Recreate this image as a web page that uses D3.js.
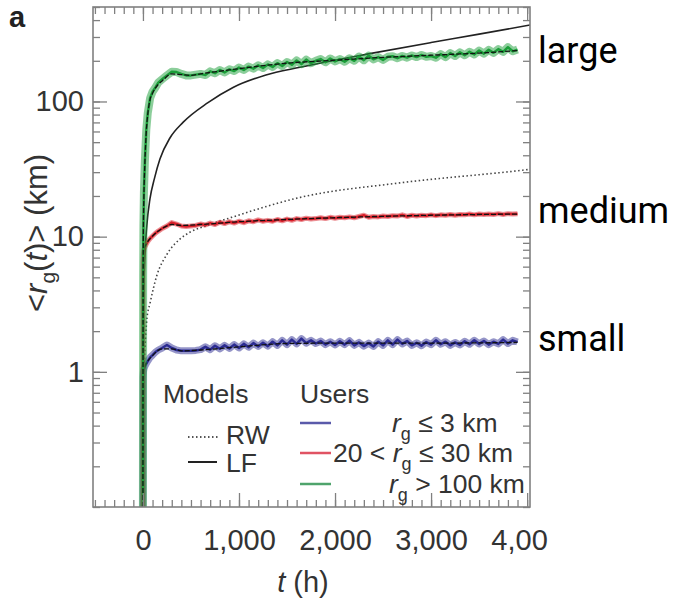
<!doctype html>
<html lang="en">
<head>
<meta charset="utf-8">
<script src="https://d3js.org/d3.v7.min.js"></script>
<style>
    html, body { margin: 0; padding: 0; background: #fff; }
    svg { display: block; }
</style>
</head>
<body>
<svg id="svg" width="675" height="601"></svg>
<script>
    // t (h) vs <r_g(t)> (km)
    var smallUsers = [[0,0.1],[2,0.9],[5,1.0],[10,1.05],[20,1.1],[35,1.15],[50,1.2],[75,1.28],[100,1.33],[130,1.4],
        [160,1.45],[200,1.5],[250,1.58],[300,1.5],[350,1.45],[400,1.43],[450,1.43],[500,1.43],[550,1.44],[600,1.46],
        [650,1.53],[700,1.46],[750,1.56],[800,1.48],[850,1.57],[900,1.49],[950,1.59],[1000,1.5],[1050,1.61],[1100,1.52],
        [1150,1.63],[1200,1.54],[1250,1.64],[1300,1.55],[1350,1.67],[1400,1.57],[1450,1.71],[1500,1.59],[1550,1.73],[1600,1.61],
        [1650,1.76],[1700,1.63],[1750,1.71],[1800,1.62],[1850,1.69],[1900,1.59],[1950,1.67],[2000,1.58],[2050,1.68],[2100,1.59],
        [2150,1.7],[2200,1.57],[2250,1.65],[2300,1.55],[2350,1.63],[2400,1.54],[2450,1.67],[2500,1.57],[2550,1.71],[2600,1.59],
        [2650,1.73],[2700,1.61],[2750,1.69],[2800,1.57],[2850,1.64],[2900,1.56],[2950,1.66],[3000,1.59],[3050,1.71],[3100,1.6],
        [3150,1.67],[3200,1.57],[3250,1.65],[3300,1.58],[3350,1.68],[3400,1.6],[3450,1.71],[3500,1.61],[3550,1.69],[3600,1.59],
        [3650,1.67],[3700,1.61],[3750,1.73],[3800,1.62],[3850,1.71],[3900,1.66]];

    var mediumUsers = [[0,0.1],[2,6.5],[5,7.5],[10,8.0],[20,8.4],[35,8.8],[50,9.2],[75,9.7],[100,10.1],[130,10.6],
        [160,11.0],[200,11.5],[250,12.0],[300,12.7],[350,12.4],[400,12.0],[450,11.9],[500,12.0],[550,12.1],[600,12.4],
        [650,12.2],[700,12.6],[750,12.3],[800,12.8],[850,12.5],[900,12.9],[950,12.6],[1000,13.0],[1050,12.7],[1100,13.1],
        [1150,12.9],[1200,13.3],[1250,13.0],[1300,13.2],[1350,13.0],[1400,13.4],[1450,13.1],[1500,13.5],[1550,13.2],[1600,13.6],
        [1650,13.4],[1700,13.7],[1750,13.5],[1800,13.6],[1850,13.8],[1900,13.6],[1950,13.9],[2000,13.7],[2050,13.9],[2100,13.8],
        [2150,14.0],[2200,13.8],[2250,14.1],[2300,14.4],[2350,13.9],[2400,14.1],[2450,14.0],[2500,14.2],[2550,14.1],[2600,14.3],
        [2650,14.2],[2700,14.5],[2750,14.1],[2800,14.4],[2850,14.2],[2900,14.4],[2950,14.3],[3000,14.5],[3050,14.3],[3100,14.5],
        [3150,14.4],[3200,14.6],[3250,14.4],[3300,14.6],[3350,14.5],[3400,14.7],[3450,14.5],[3500,14.7],[3550,14.6],[3600,14.7],
        [3650,14.6],[3700,14.8],[3750,14.6],[3800,14.8],[3850,14.7],[3900,14.8]];

    var largeUsers = [[0,0.1],[2,5],[5,12],[10,21],[20,36],[35,62],[50,82],[75,106],[100,118],[130,127],
        [160,138],[200,146],[250,156],[300,166],[350,165],[400,160],[450,156],[500,156],[550,158],[600,160],
        [650,157],[700,167],[750,162],[800,171],[850,164],[900,173],[950,168],[1000,178],[1050,171],[1100,181],
        [1150,175],[1200,185],[1250,177],[1300,188],[1350,180],[1400,192],[1450,183],[1500,196],[1550,187],[1600,201],
        [1650,189],[1700,204],[1750,192],[1800,200],[1850,206],[1900,195],[1950,208],[2000,198],[2050,206],[2100,197],
        [2150,209],[2200,200],[2250,215],[2300,202],[2350,218],[2400,205],[2450,213],[2500,203],[2550,214],[2600,216],
        [2650,209],[2700,217],[2750,211],[2800,219],[2850,213],[2900,221],[2950,214],[3000,217],[3050,211],[3100,224],
        [3150,213],[3200,228],[3250,217],[3300,231],[3350,220],[3400,233],[3450,223],[3500,238],[3550,226],[3600,241],
        [3650,229],[3700,244],[3750,233],[3800,252],[3850,235],[3900,242]];

    // LF fits drawn on top of each user group
    var smallFit = [[0,0.1],[2,0.9],[5,1.0],[10,1.05],[20,1.1],[50,1.2],[100,1.32],[200,1.48],[300,1.48],[400,1.43],
        [600,1.45],[1000,1.53],[1500,1.62],[2000,1.63],[3000,1.63],[3900,1.65]];
    var mediumFit = [[0,0.1],[2,6.5],[5,7.5],[10,8],[20,8.4],[50,9.2],[100,10.1],[200,11.5],[300,12.3],[400,12.1],
        [600,12.3],[1000,12.9],[1500,13.4],[2000,13.8],[3000,14.4],[3900,14.7]];
    var largeFit = [[0,0.1],[2,5],[5,12],[10,20],[20,35],[35,60],[50,80],[75,104],[100,115],[160,134],[200,142],
        [300,160],[400,158],[500,156],[600,160],[1000,175],[1500,192],[2000,202],[2500,212],[3000,220],[3500,228],[3900,238]];

    // models
    var modelLF = [[0,0.1],[1,0.9],[5,2.6],[10,4.3],[20,7.2],[40,12],[73,19],[120,27],[177,37.5],[281,53.7],[417,70],
        [677,98],[938,127],[1281,157],[1635,179],[2333,224],[3000,273],[3500,315],[4030,368]];
    var modelRW = [[0,0.1],[3,0.6],[10,1.0],[21,1.5],[42,2.5],[73,3.2],[146,5.2],[250,7.4],[385,9.6],[490,10.8],
        [700,12.3],[938,14],[1635,19.5],[2677,25],[3948,31],[4030,31.5]];

    var xTickValues = [0, 1000, 2000, 3000, 4000];
    var yTickValues = [1, 10, 100];
    var groupNames = ["large", "medium", "small"];

    var svg = d3.select("#svg");
    var font = "'Liberation Sans', Arial, Helvetica, sans-serif";

    var pLeft = 93, pRight = 530, pTop = 7, pBottom = 507;
    var x = d3.scaleLinear().domain([-520, 4030]).range([pLeft, pRight]);
    var y = d3.scaleLog().domain([0.1, 500]).range([pBottom, pTop]);

    // the source panel is cropped on the right, through the last tick label
    svg.append("clipPath").attr("id", "cut")
        .append("rect").attr("x", 0).attr("y", 0).attr("width", 548).attr("height", 601);
    svg.append("clipPath").attr("id", "plot")
        .append("rect").attr("x", pLeft).attr("y", pTop).attr("width", pRight - pLeft).attr("height", pBottom - pTop);

    var chart = svg.append("g").attr("clip-path", "url(#cut)");

    var line = d3.line()
        .x(function (d) { return x(d[0]); })
        .y(function (d) { return y(d[1]); });
    var smooth = d3.line()
        .curve(d3.curveMonotoneX)
        .x(function (d) { return x(d[0]); })
        .y(function (d) { return y(d[1]); });

    var plot = chart.append("g").attr("clip-path", "url(#plot)");

    plot.append("path").attr("d", smooth(modelRW))
        .attr("fill", "none").attr("stroke", "#444").attr("stroke-width", 1.6)
        .attr("stroke-dasharray", "1.5,2.5");
    plot.append("path").attr("d", smooth(modelLF))
        .attr("fill", "none").attr("stroke", "#222").attr("stroke-width", 1.6);

    var users = [
        {data: smallUsers, fit: smallFit, color: "#2b2b92", band: 7},
        {data: mediumUsers, fit: mediumFit, color: "#d8202a", band: 5},
        {data: largeUsers, fit: largeFit, color: "#1a9e38", band: 8}
    ];
    users.forEach(function (u) {
        plot.append("path").attr("d", line(u.data))
            .attr("fill", "none").attr("stroke", u.color).attr("stroke-width", u.band)
            .attr("stroke-opacity", 0.5).attr("stroke-linejoin", "round");
        plot.append("path").attr("d", line(u.data))
            .attr("fill", "none").attr("stroke", u.color).attr("stroke-width", 2.5)
            .attr("stroke-linejoin", "round");
        plot.append("path").attr("d", smooth(u.fit))
            .attr("fill", "none").attr("stroke", "#111").attr("stroke-width", 1.3)
            .attr("stroke-dasharray", "5,2");
    });

    // frame and ticks
    var axisColor = "#808080";
    chart.append("rect").attr("x", pLeft).attr("y", pTop)
        .attr("width", pRight - pLeft).attr("height", pBottom - pTop)
        .attr("fill", "none").attr("stroke", axisColor).attr("stroke-width", 1.6);

    var xMinor = d3.range(-500, 4001, 100);
    var yMinor = y.ticks();

    function tickStyle(g) {
        g.select(".domain").remove();
        g.selectAll(".tick line").attr("stroke", axisColor).attr("stroke-width", 1.3);
    }

    chart.append("g").attr("transform", "translate(0," + pBottom + ")")
        .call(d3.axisTop(x).tickValues(xMinor).tickSize(7).tickFormat("")).call(tickStyle);
    chart.append("g").attr("transform", "translate(0," + pBottom + ")")
        .call(d3.axisTop(x).tickValues(xTickValues).tickSize(14).tickFormat("")).call(tickStyle);
    chart.append("g").attr("transform", "translate(0," + pTop + ")")
        .call(d3.axisBottom(x).tickValues(xMinor).tickSize(7).tickFormat("")).call(tickStyle);
    chart.append("g").attr("transform", "translate(0," + pTop + ")")
        .call(d3.axisBottom(x).tickValues(xTickValues).tickSize(14).tickFormat("")).call(tickStyle);

    chart.append("g").attr("transform", "translate(" + pLeft + ",0)")
        .call(d3.axisRight(y).tickValues(yMinor).tickSize(7).tickFormat("")).call(tickStyle);
    chart.append("g").attr("transform", "translate(" + pLeft + ",0)")
        .call(d3.axisRight(y).tickValues(yTickValues).tickSize(14).tickFormat("")).call(tickStyle);
    chart.append("g").attr("transform", "translate(" + pRight + ",0)")
        .call(d3.axisLeft(y).tickValues(yMinor).tickSize(7).tickFormat("")).call(tickStyle);
    chart.append("g").attr("transform", "translate(" + pRight + ",0)")
        .call(d3.axisLeft(y).tickValues(yTickValues).tickSize(14).tickFormat("")).call(tickStyle);

    // tick labels
    var tickSize = 29;
    var xLab = chart.append("g").attr("transform", "translate(0," + pBottom + ")")
        .call(d3.axisBottom(x).tickValues(xTickValues).tickSize(0).tickPadding(22).tickFormat(d3.format(",")));
    xLab.select(".domain").remove();
    xLab.selectAll("text").attr("font-family", font).attr("font-size", tickSize).attr("fill", "#333");

    var yLab = chart.append("g").attr("transform", "translate(" + pLeft + ",0)")
        .call(d3.axisLeft(y).tickValues(yTickValues).tickSize(0).tickPadding(9).tickFormat(d3.format("d")));
    yLab.select(".domain").remove();
    yLab.selectAll("text").attr("font-family", font).attr("font-size", tickSize).attr("fill", "#333");

    // axis titles
    var xt = chart.append("text").attr("x", 303).attr("y", 592)
        .attr("text-anchor", "middle").attr("font-family", font).attr("font-size", tickSize).attr("fill", "#333");
    xt.append("tspan").attr("font-style", "italic").text("t");
    xt.append("tspan").text(" (h)");

    var yt = chart.append("text").attr("transform", "translate(47,233) rotate(-90)")
        .attr("text-anchor", "middle").attr("font-family", font).attr("font-size", 31).attr("fill", "#333");
    yt.append("tspan").text("<");
    yt.append("tspan").attr("font-style", "italic").text("r");
    yt.append("tspan").attr("font-size", 21).attr("dy", 8).text("g");
    yt.append("tspan").attr("dy", -8).text("(");
    yt.append("tspan").attr("font-style", "italic").text("t");
    yt.append("tspan").text(")> (km)");

    chart.append("text").attr("x", 9).attr("y", 27)
        .attr("font-family", font).attr("font-size", 29).attr("font-weight", "bold").attr("fill", "#222")
        .text("a");

    // legend
    var legendSize = 26.5;
    chart.append("text").attr("x", 163).attr("y", 403)
        .attr("font-family", font).attr("font-size", legendSize).attr("fill", "#333").text("Models");
    chart.append("text").attr("x", 300).attr("y", 403)
        .attr("font-family", font).attr("font-size", legendSize).attr("fill", "#333").text("Users");

    chart.append("line").attr("x1", 188).attr("x2", 219).attr("y1", 437).attr("y2", 437)
        .attr("stroke", "#555").attr("stroke-width", 1.8).attr("stroke-dasharray", "1.5,2.5");
    chart.append("text").attr("x", 226).attr("y", 444)
        .attr("font-family", font).attr("font-size", legendSize).attr("fill", "#333").text("RW");
    chart.append("line").attr("x1", 188).attr("x2", 217).attr("y1", 462).attr("y2", 462)
        .attr("stroke", "#222").attr("stroke-width", 2);
    chart.append("text").attr("x", 226).attr("y", 472)
        .attr("font-family", font).attr("font-size", legendSize).attr("fill", "#333").text("LF");

    var legendRows = [
        {color: "#5a5aaa", y: 423, tx: 392, pre: "", post: " ≤ 3 km"},
        {color: "#e05363", y: 453, tx: 333, pre: "20 < ", post: " ≤ 30 km"},
        {color: "#4fa46c", y: 484, tx: 389, pre: "", post: " > 100 km"}
    ];
    legendRows.forEach(function (r) {
        chart.append("line").attr("x1", 300).attr("x2", 331).attr("y1", r.y).attr("y2", r.y)
            .attr("stroke", r.color).attr("stroke-width", 2.5);
        var t = chart.append("text").attr("x", r.tx).attr("y", r.y + 9)
            .attr("font-family", font).attr("font-size", legendSize).attr("fill", "#333");
        if (r.pre) t.append("tspan").text(r.pre);
        t.append("tspan").attr("font-style", "italic").text("r");
        t.append("tspan").attr("font-size", 18).attr("dy", 8).text("g");
        t.append("tspan").attr("dy", -8).text(r.post);
    });

    // group labels outside the cropped panel
    var labelY = [63, 223, 351];
    groupNames.forEach(function (name, i) {
        svg.append("text").attr("x", 538).attr("y", labelY[i])
            .attr("font-family", "Roboto, 'Noto Sans', sans-serif").attr("font-size", 36).attr("fill", "#000")
            .text(name);
    });
</script>
</body>
</html>
